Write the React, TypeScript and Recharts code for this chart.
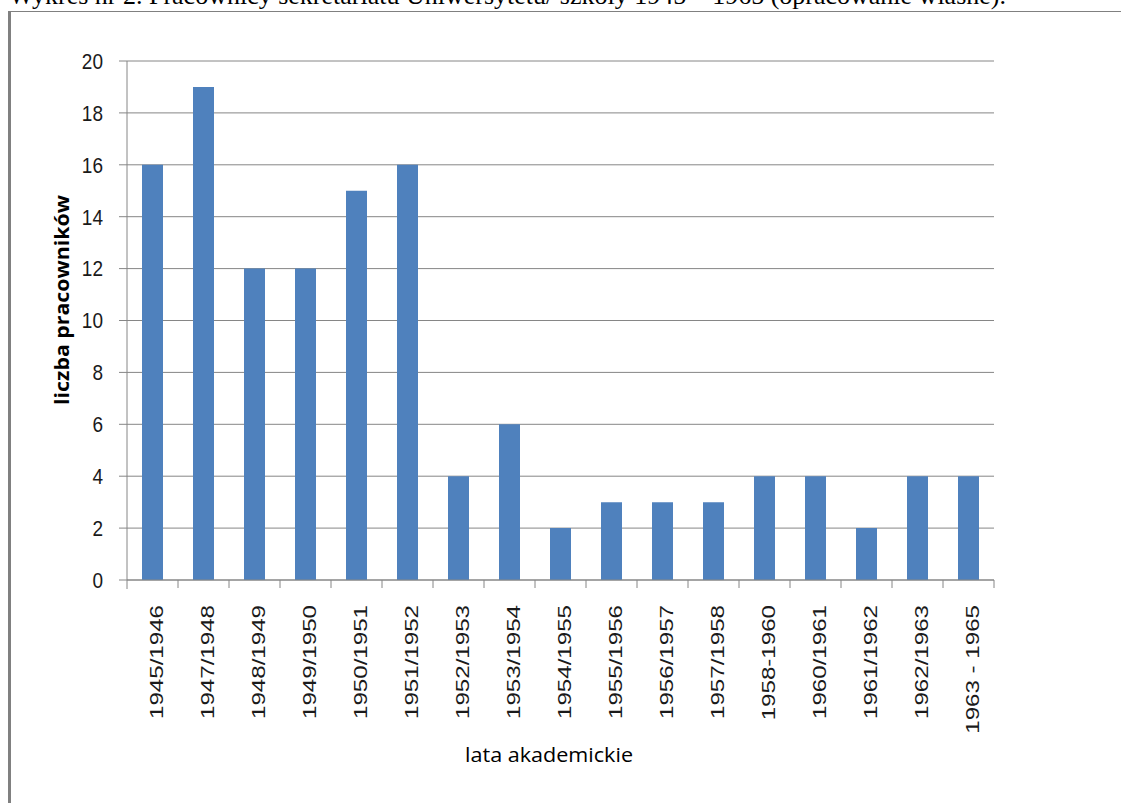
import { Bar, BarChart, CartesianGrid, XAxis, YAxis } from "recharts";

const years = [
  "1945/1946",
  "1947/1948",
  "1948/1949",
  "1949/1950",
  "1950/1951",
  "1951/1952",
  "1952/1953",
  "1953/1954",
  "1954/1955",
  "1955/1956",
  "1956/1957",
  "1957/1958",
  "1958-1960",
  "1960/1961",
  "1961/1962",
  "1962/1963",
  "1963 - 1965",
];

const staff = [16, 19, 12, 12, 15, 16, 4, 6, 2, 3, 3, 3, 4, 4, 2, 4, 4];

const yTicks = [0, 2, 4, 6, 8, 10, 12, 14, 16, 18, 20];

const data = years.map((name, i) => ({ name, staff: staff[i] }));

const axisGray = "#868686";

function YearTick(props: any) {
  const { x, index, payload } = props;
  const half = payload?.offset ?? 25.5;
  const base = 580;
  return (
    <g>
      {index === 0 && (
        <line x1={x - half} x2={x - half} y1={base} y2={base + 9} stroke={axisGray} />
      )}
      <line x1={x + half} x2={x + half} y1={base} y2={base + 8} stroke={axisGray} />
      <text
        transform={`translate(${x + 10},605) rotate(-90) scale(1.27,1)`}
        textAnchor="end"
        fontFamily="'Liberation Sans', Arial, sans-serif"
        fontSize={19}
        fill="#1a1a1a"
      >
        {payload.value}
      </text>
    </g>
  );
}

function CountTick(props: any) {
  const { x, y, payload } = props;
  return (
    <text
      transform={`translate(${x},${y}) scale(1,1.15)`}
      textAnchor="end"
      dy="0.36em"
      fontFamily="'Liberation Sans', Arial, sans-serif"
      fontSize={19}
      fill="#1a1a1a"
    >
      {payload.value}
    </text>
  );
}

export default function App() {
  return (
    <div
      style={{
        position: "absolute",
        left: 0,
        top: 0,
        width: 1121,
        height: 803,
        overflow: "hidden",
        background: "#fff",
      }}
    >
      <div
        style={{
          position: "absolute",
          left: 9,
          top: -17,
          whiteSpace: "nowrap",
          fontFamily: "'Liberation Serif', 'Times New Roman', serif",
          fontSize: 26,
          lineHeight: "26px",
          color: "#000",
        }}
      >
        Wykres nr 2. Pracownicy sekretariatu Uniwersytetu/ szkoły 1945 – 1965 (opracowanie własne).
      </div>
      <div
        style={{
          position: "absolute",
          left: 8,
          top: 11,
          width: 1200,
          height: 900,
          borderLeft: "3px solid #808080",
          borderTop: "1px solid #808080",
        }}
      />
      <div style={{ position: "absolute", left: 0, top: 0 }}>
        <BarChart
          width={1121}
          height={803}
          data={data}
          margin={{ top: 61, right: 127, left: 0, bottom: 0 }}
        >
          <CartesianGrid horizontal vertical={false} stroke={axisGray} />
          <XAxis
            dataKey="name"
            interval={0}
            height={223}
            tickLine={false}
            axisLine={{ stroke: axisGray }}
            tick={<YearTick />}
          />
          <YAxis
            width={127}
            domain={[0, 20]}
            ticks={yTicks}
            interval={0}
            tickSize={8}
            tickMargin={16}
            axisLine={{ stroke: axisGray }}
            tickLine={{ stroke: axisGray }}
            tick={<CountTick />}
          />
          <Bar dataKey="staff" fill="#4F81BD" barSize={21} isAnimationActive={false} />
          <text
            transform="translate(69,300) rotate(-90)"
            textAnchor="middle"
            fontFamily="'Open Sans', sans-serif"
            fontWeight={700}
            fontSize={19}
            textLength={210}
            lengthAdjust="spacingAndGlyphs"
            fill="#000"
          >
            liczba pracowników
          </text>
          <text
            x={549}
            y={762}
            textAnchor="middle"
            fontFamily="'Open Sans', sans-serif"
            fontWeight={500}
            fontSize={20}
            textLength={168}
            lengthAdjust="spacingAndGlyphs"
            fill="#000"
          >
            lata akademickie
          </text>
        </BarChart>
      </div>
    </div>
  );
}
